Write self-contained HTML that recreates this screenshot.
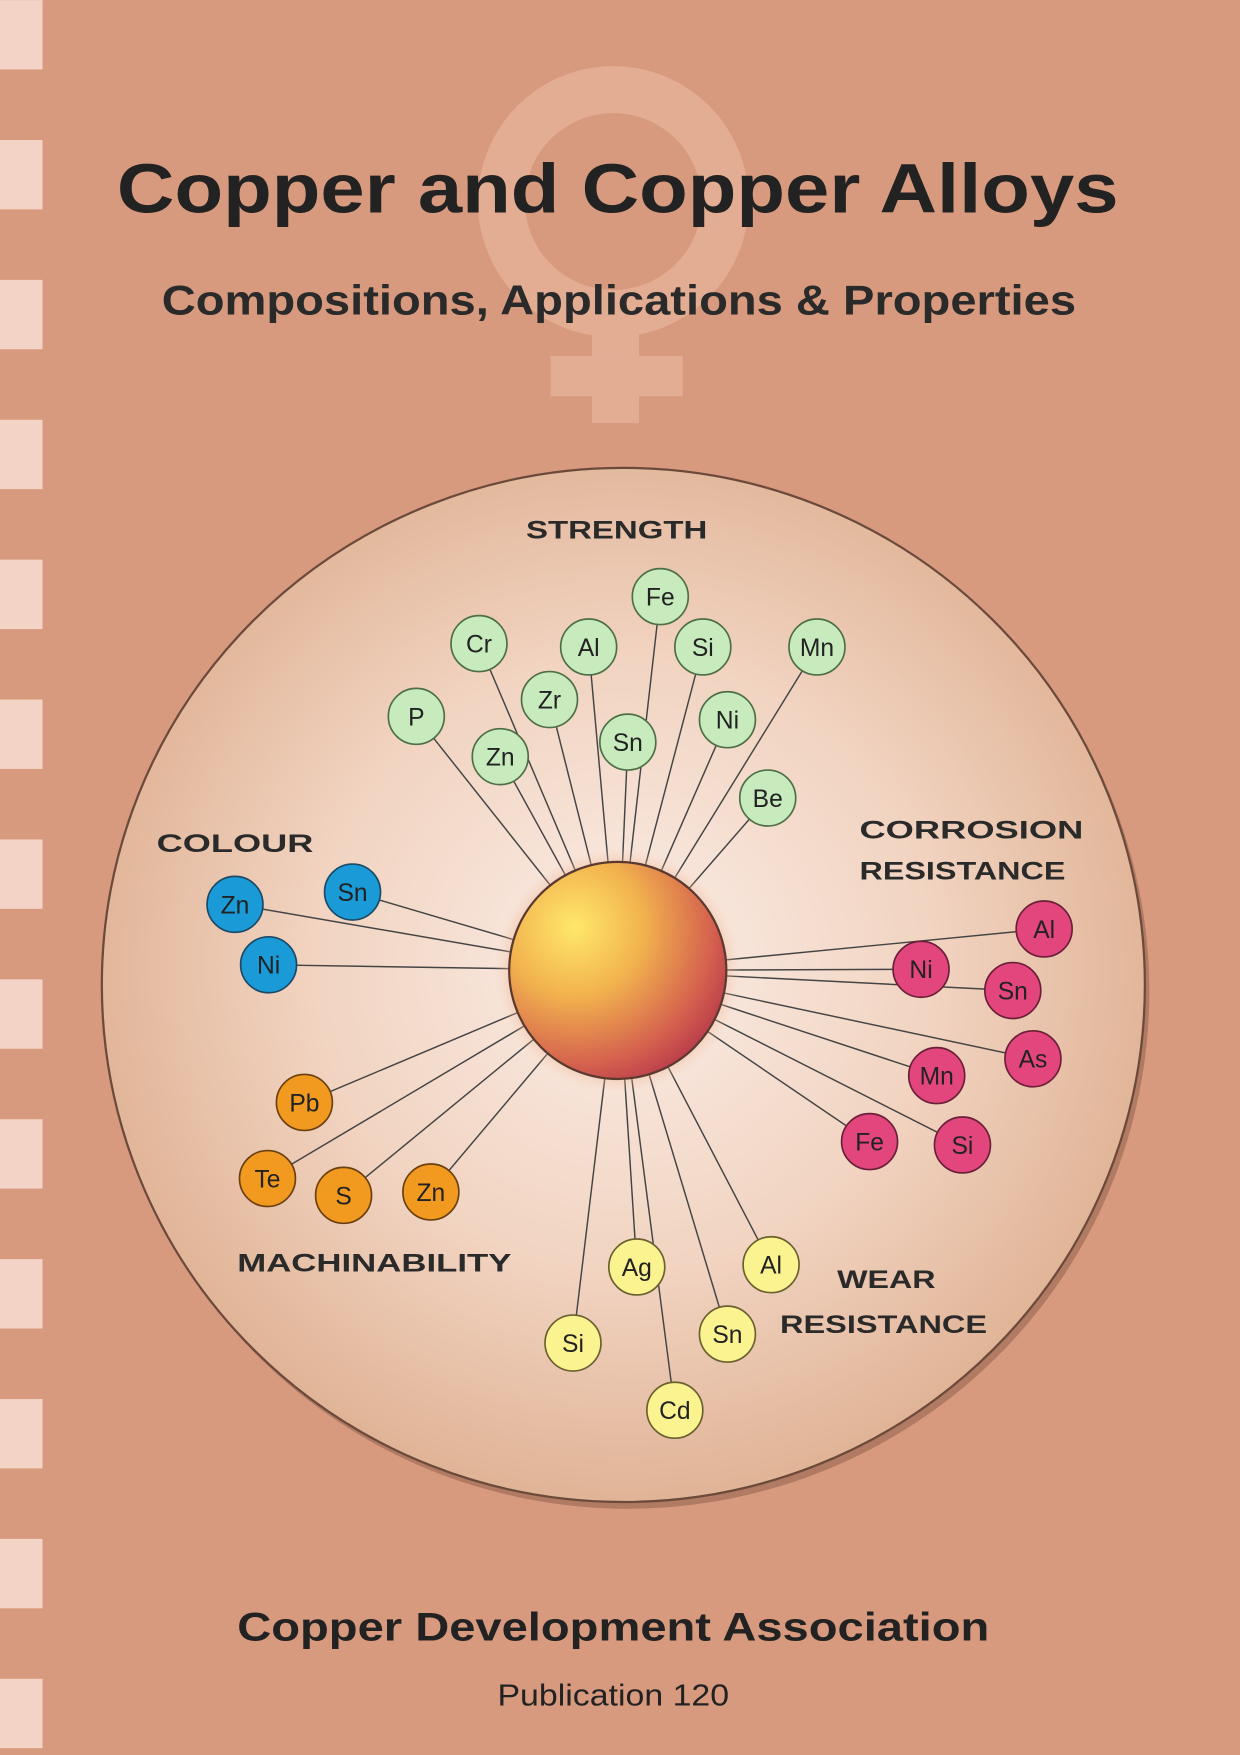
<!DOCTYPE html>
<html><head><meta charset="utf-8"><style>
html,body{margin:0;padding:0;background:#d89a7e}
svg{display:block}
</style></head><body>
<svg width="1240" height="1755" viewBox="0 0 1108 1568" xmlns="http://www.w3.org/2000/svg" font-family="Liberation Sans, sans-serif">
<defs>
<radialGradient id="disc" cx="0.5" cy="0.48" r="0.55">
<stop offset="0" stop-color="#fbeee7"/><stop offset="0.55" stop-color="#f1d3c0"/><stop offset="1" stop-color="#deaf90"/>
</radialGradient>
<radialGradient id="ball" cx="0.3" cy="0.3" r="0.8">
<stop offset="0" stop-color="#ffe86a"/><stop offset="0.4" stop-color="#f2b24e"/><stop offset="0.8" stop-color="#d4604e"/><stop offset="1" stop-color="#b83a4a"/>
</radialGradient>
<radialGradient id="glow" cx="0.5" cy="0.5" r="0.5">
<stop offset="0.75" stop-color="#e89060" stop-opacity="0.8"/><stop offset="1" stop-color="#f5d0b8" stop-opacity="0"/>
</radialGradient>
</defs>
<rect width="1108" height="1568" fill="#d89a7e"/>
<g fill="#f2d3c5">
<rect x="0" y="0" width="38" height="62"/><rect x="0" y="125" width="38" height="62"/><rect x="0" y="250" width="38" height="62"/><rect x="0" y="375" width="38" height="62"/><rect x="0" y="500" width="38" height="62"/><rect x="0" y="625" width="38" height="62"/><rect x="0" y="750" width="38" height="62"/><rect x="0" y="875" width="38" height="62"/><rect x="0" y="1000" width="38" height="62"/><rect x="0" y="1125" width="38" height="62"/><rect x="0" y="1250" width="38" height="62"/><rect x="0" y="1375" width="38" height="62"/><rect x="0" y="1500" width="38" height="62"/>
</g>
<g fill="#e3ad94">
<circle cx="548" cy="180" r="100" fill="none" stroke="#e3ad94" stroke-width="42"/>
<rect x="529" y="270" width="42" height="108"/>
<rect x="492" y="318" width="118" height="36"/>
</g>
<text x="552" y="190" text-anchor="middle" font-size="62" font-weight="bold" fill="#222" textLength="895" lengthAdjust="spacingAndGlyphs">Copper and Copper Alloys</text>
<text x="553" y="281" text-anchor="middle" font-size="37" font-weight="bold" fill="#2a2a2a" textLength="817" lengthAdjust="spacingAndGlyphs">Compositions, Applications &amp; Properties</text>
<ellipse cx="561" cy="886" rx="466" ry="462" fill="#8a5a45" opacity="0.5"/>
<ellipse cx="557" cy="880" rx="466" ry="462" fill="url(#disc)" stroke="#6b4a3c" stroke-width="2"/>
<g stroke="#444" stroke-width="1.3">
<line x1="552" y1="867" x2="590" y2="533"/><line x1="552" y1="867" x2="428" y2="575"/><line x1="552" y1="867" x2="526" y2="578"/><line x1="552" y1="867" x2="628" y2="578"/><line x1="552" y1="867" x2="730" y2="578"/><line x1="552" y1="867" x2="372" y2="640"/><line x1="552" y1="867" x2="491" y2="625"/><line x1="552" y1="867" x2="650" y2="643"/><line x1="552" y1="867" x2="447" y2="676"/><line x1="552" y1="867" x2="561" y2="663"/><line x1="552" y1="867" x2="686" y2="713"/>
<line x1="552" y1="867" x2="315" y2="797"/><line x1="552" y1="867" x2="210" y2="808"/><line x1="552" y1="867" x2="240" y2="862"/>
<line x1="552" y1="867" x2="933" y2="830"/><line x1="552" y1="867" x2="823" y2="866"/><line x1="552" y1="867" x2="905" y2="885"/><line x1="552" y1="867" x2="923" y2="946"/><line x1="552" y1="867" x2="837" y2="961"/><line x1="552" y1="867" x2="777" y2="1020"/><line x1="552" y1="867" x2="860" y2="1023"/>
<line x1="552" y1="867" x2="272" y2="985"/><line x1="552" y1="867" x2="239" y2="1053"/><line x1="552" y1="867" x2="307" y2="1068"/><line x1="552" y1="867" x2="385" y2="1065"/>
<line x1="552" y1="867" x2="569" y2="1132"/><line x1="552" y1="867" x2="689" y2="1130"/><line x1="552" y1="867" x2="512" y2="1200"/><line x1="552" y1="867" x2="650" y2="1192"/><line x1="552" y1="867" x2="603" y2="1260"/>
</g>
<circle cx="552" cy="867" r="110" fill="url(#glow)"/>
<circle cx="552" cy="867" r="97" fill="url(#ball)" stroke="#5a3a30" stroke-width="2"/>
<g font-size="22" text-anchor="middle" stroke-width="1.5">
<g fill="#c8ebbe" stroke="#4e6e48">
<circle cx="590" cy="533" r="25"/><circle cx="428" cy="575" r="25"/><circle cx="526" cy="578" r="25"/><circle cx="628" cy="578" r="25"/><circle cx="730" cy="578" r="25"/><circle cx="372" cy="640" r="25"/><circle cx="491" cy="625" r="25"/><circle cx="650" cy="643" r="25"/><circle cx="447" cy="676" r="25"/><circle cx="561" cy="663" r="25"/><circle cx="686" cy="713" r="25"/>
</g>
<g fill="#1a9ad6" stroke="#1c4a66"><circle cx="315" cy="797" r="25"/><circle cx="210" cy="808" r="25"/><circle cx="240" cy="862" r="25"/></g>
<g fill="#e2467c" stroke="#6a2038"><circle cx="933" cy="830" r="25"/><circle cx="823" cy="866" r="25"/><circle cx="905" cy="885" r="25"/><circle cx="923" cy="946" r="25"/><circle cx="837" cy="961" r="25"/><circle cx="777" cy="1020" r="25"/><circle cx="860" cy="1023" r="25"/></g>
<g fill="#f29a20" stroke="#6a4010"><circle cx="272" cy="985" r="25"/><circle cx="239" cy="1053" r="25"/><circle cx="307" cy="1068" r="25"/><circle cx="385" cy="1065" r="25"/></g>
<g fill="#fbf290" stroke="#6a6030"><circle cx="569" cy="1132" r="25"/><circle cx="689" cy="1130" r="25"/><circle cx="512" cy="1200" r="25"/><circle cx="650" cy="1192" r="25"/><circle cx="603" cy="1260" r="25"/></g>
<g fill="#222" stroke="none" dy="8">
<text x="590" y="541">Fe</text><text x="428" y="583">Cr</text><text x="526" y="586">Al</text><text x="628" y="586">Si</text><text x="730" y="586">Mn</text><text x="372" y="648">P</text><text x="491" y="633">Zr</text><text x="650" y="651">Ni</text><text x="447" y="684">Zn</text><text x="561" y="671">Sn</text><text x="686" y="721">Be</text>
<text x="315" y="805">Sn</text><text x="210" y="816">Zn</text><text x="240" y="870">Ni</text>
<text x="933" y="838">Al</text><text x="823" y="874">Ni</text><text x="905" y="893">Sn</text><text x="923" y="954">As</text><text x="837" y="969">Mn</text><text x="777" y="1028">Fe</text><text x="860" y="1031">Si</text>
<text x="272" y="993">Pb</text><text x="239" y="1061">Te</text><text x="307" y="1076">S</text><text x="385" y="1073">Zn</text>
<text x="569" y="1140">Ag</text><text x="689" y="1138">Al</text><text x="512" y="1208">Si</text><text x="650" y="1200">Sn</text><text x="603" y="1268">Cd</text>
</g>
</g>
<g font-size="22" font-weight="bold" fill="#2a2a2a">
<text x="470" y="481" textLength="162" lengthAdjust="spacingAndGlyphs">STRENGTH</text>
<text x="140" y="761" textLength="140" lengthAdjust="spacingAndGlyphs">COLOUR</text>
<text x="768" y="749" textLength="200" lengthAdjust="spacingAndGlyphs">CORROSION</text>
<text x="768" y="786" textLength="184" lengthAdjust="spacingAndGlyphs">RESISTANCE</text>
<text x="212" y="1136" textLength="245" lengthAdjust="spacingAndGlyphs">MACHINABILITY</text>
<text x="748" y="1151" textLength="88" lengthAdjust="spacingAndGlyphs">WEAR</text>
<text x="697" y="1191" textLength="185" lengthAdjust="spacingAndGlyphs">RESISTANCE</text>
</g>
<text x="548" y="1466" text-anchor="middle" font-size="36" font-weight="bold" fill="#222" textLength="672" lengthAdjust="spacingAndGlyphs">Copper Development Association</text>
<text x="548" y="1524" text-anchor="middle" font-size="27" fill="#222" textLength="207" lengthAdjust="spacingAndGlyphs">Publication 120</text>
</svg>
</body></html>
